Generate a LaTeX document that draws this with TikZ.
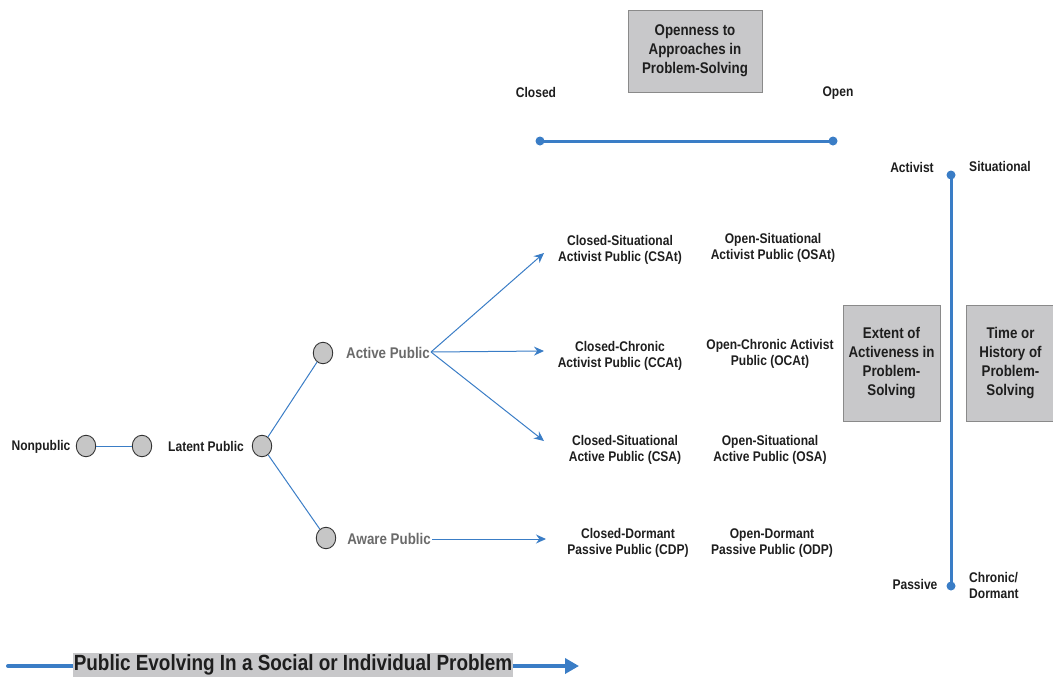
\documentclass[tikz,border=0pt]{standalone}
\usepackage{fontspec}
\setmainfont{Liberation Sans}[FakeStretch=0.86]
\usetikzlibrary{arrows.meta,shapes.geometric}
\definecolor{lineblue}{HTML}{3A7DC6}
\definecolor{boxfill}{HTML}{C8C8CA}
\definecolor{boxedge}{HTML}{8A8A8A}
\definecolor{dotfill}{HTML}{C6C6C6}
\definecolor{dotedge}{HTML}{333333}
\definecolor{txt}{HTML}{1E1E1E}
\definecolor{graytxt}{HTML}{6A6A6A}
\begin{document}
\begin{tikzpicture}[x=1pt,y=-1pt,
  lbl/.style={font=\bfseries\fontsize{14}{16}\selectfont, text=txt, align=center, inner sep=0pt},
  glbl/.style={lbl, font=\bfseries\fontsize{15.5}{17}\selectfont, text=graytxt},
  boxlbl/.style={draw=boxedge, line width=0.8pt, fill=boxfill, font=\bfseries\fontsize{15.5}{19}\selectfont, text=txt, align=center, inner sep=0pt},
  stage/.style={ellipse, draw=dotedge, line width=0.9pt, fill=dotfill, minimum width=19.5, minimum height=21.5, inner sep=0pt},
  enddot/.style={circle, fill=lineblue, minimum size=9, inner sep=0pt},
  axis/.style={draw=lineblue, line width=3pt},
  link/.style={draw=lineblue, line width=1pt},
  arr/.style={draw=lineblue, line width=1pt, -{Stealth[length=10,width=9]}}
]
\useasboundingbox (0,0) rectangle (1053,678);

% Openness axis
\node[boxlbl, minimum width=134, minimum height=82] (open) at (695,51) {Openness to\\Approaches in\\Problem-Solving};
\node[lbl] (closedl) at (536,92) {Closed};
\node[lbl] (openl) at (838,93.5) {Open};
\node[enddot] (h1) at (540,141) {};
\node[enddot] (h2) at (833,141) {};
\draw[axis] (h1.center) -- (h2.center);

% Activeness axis
\node[enddot] (v1) at (951,175) {};
\node[enddot] (v2) at (951,586) {};
\draw[axis] (v1.center) -- (v2.center);
\node[lbl] (activist) at (912,167) {Activist};
\node[lbl] (situational) at (1000,166) {Situational};
\node[lbl] (passive) at (915,584) {Passive};
\node[lbl, align=left, anchor=west] (chronic) at (969,585) {Chronic/\\Dormant};
\node[boxlbl, minimum width=97, minimum height=116] (extent) at (891.5,363) {Extent of\\Activeness in\\Problem-\\Solving};
\node[boxlbl, minimum width=89, minimum height=116] (time) at (1010.5,363) {Time or\\History of\\Problem-\\Solving};

% Stages
\node[lbl] (nonpub) at (41,447) {Nonpublic};
\node[stage] (s1) at (86,446) {};
\node[stage] (s2) at (142,446) {};
\node[lbl] (latent) at (206,446) {Latent Public};
\node[stage] (s3) at (262,446) {};
\node[stage] (s4) at (323,353) {};
\node[stage] (s5) at (326,538) {};
\node[glbl] (active) at (388,353) {Active Public};
\node[glbl] (aware) at (389,539) {Aware Public};
\draw[link] (s1) -- (s2);
\draw[link] (s3) -- (s4);
\draw[link] (s3) -- (s5);

% Types
\node[lbl] (csat) at (620,250) {Closed-Situational\\Activist Public (CSAt)};
\node[lbl] (osat) at (773,248) {Open-Situational\\Activist Public (OSAt)};
\node[lbl] (ccat) at (620,356) {Closed-Chronic\\Activist Public (CCAt)};
\node[lbl] (ocat) at (770,354) {Open-Chronic Activist\\Public (OCAt)};
\node[lbl] (csa) at (625,450) {Closed-Situational\\Active Public (CSA)};
\node[lbl] (osa) at (770,450) {Open-Situational\\Active Public (OSA)};
\node[lbl] (cdp) at (628,543) {Closed-Dormant\\Passive Public (CDP)};
\node[lbl] (odp) at (772,543) {Open-Dormant\\Passive Public (ODP)};

\coordinate (ae) at (431,352);
\coordinate (we) at (432,539);
\coordinate (t1) at (544,253);
\coordinate (t2) at (544,351);
\coordinate (t3) at (544,441);
\coordinate (t4) at (546,539);
\draw[arr] (ae) -- (t1);
\draw[arr] (ae) -- (t2);
\draw[arr] (ae) -- (t3);
\draw[arr] (we) -- (t4);

% Bottom arrow
\coordinate (b0) at (8,666);
\coordinate (b1) at (579,666);
\draw[draw=lineblue, line width=4pt, line cap=round, -{Triangle[length=14,width=15,line cap=butt]}] (b0) -- (b1);
\node[fill=boxfill, font=\bfseries\fontsize{22}{24}\selectfont, text=txt, inner xsep=1pt, inner ysep=1.5pt] (evolve) at (293,665) {Public Evolving In a Social or Individual Problem};
\end{tikzpicture}
\end{document}
